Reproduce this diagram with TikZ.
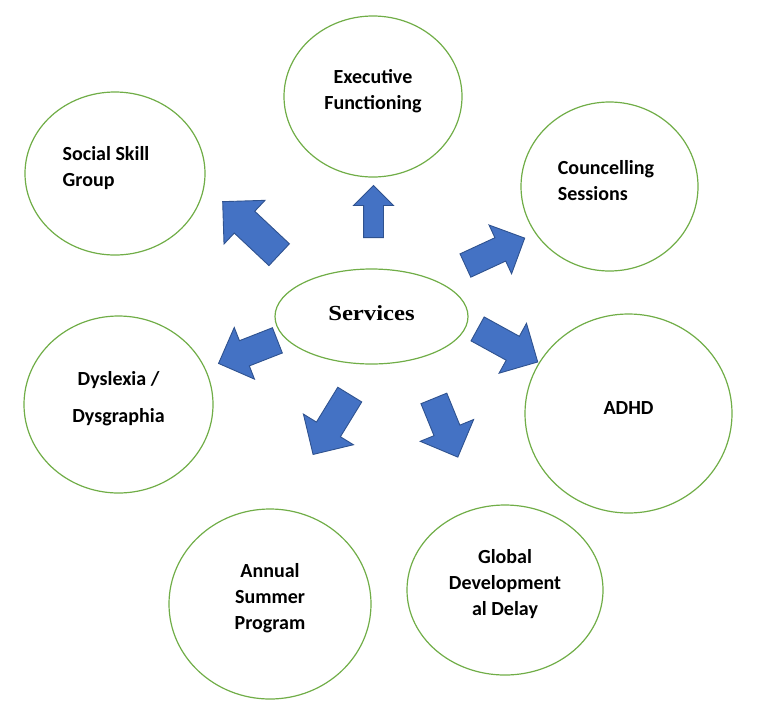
\documentclass[tikz,border=0pt]{standalone}
\usepackage{fontspec}
\newfontfamily\calibri{Carlito}
\newfontfamily\cambria{Liberation Serif}[FakeStretch=1.15]
\usetikzlibrary{shapes.geometric, shapes.arrows}
\definecolor{ringgreen}{HTML}{70AD47}
\definecolor{arrowblue}{HTML}{4472C4}
\definecolor{arrowedge}{HTML}{2F528F}

\begin{document}
\begin{tikzpicture}[x=1pt, y=-1pt,
ring/.style={ellipse, draw=ringgreen, line width=1.2pt, inner sep=0pt},
svc/.style={font=\calibri\bfseries\fontsize{20}{26}\selectfont, align=center},
blk/.style={single arrow, fill=arrowblue, draw=arrowedge, line width=0.9pt, inner xsep=0pt, minimum width=0pt, anchor=tail}]
\useasboundingbox (0,0) rectangle (757,718);
\def\up{5.5pt}

% rings
\node[ring, minimum width=193pt, minimum height=95pt] (serv) at (371.5,316.5) {};
\node[ring, minimum width=180pt, minimum height=163pt] (social) at (115,173.5) {};
\node[ring, minimum width=178pt, minimum height=161pt] (exec) at (373,96.5) {};
\node[ring, minimum width=177pt, minimum height=169pt] (counsel) at (609.5,186.5) {};
\node[ring, minimum width=189pt, minimum height=177pt] (dys) at (118.5,404.5) {};
\node[ring, minimum width=207pt, minimum height=199pt] (adhd) at (628.5,413.5) {};
\node[ring, minimum width=202pt, minimum height=190pt] (annual) at (270,604) {};
\node[ring, minimum width=196pt, minimum height=170pt] (global) at (505,590) {};

% labels
\node[font=\cambria\bfseries\fontsize{21.5}{26}\selectfont] (serv-t) at ([yshift=3pt]serv) {Services};
\node[svc, align=left] (social-t) at (106,168) {Social Skill\\Group};
\node[svc] (exec-t) at ([yshift=\up]exec) {Executive\\Functioning};
\node[svc, align=left] (counsel-t) at (606,181) {Councelling\\Sessions};
\node[svc] (dys-t) at ([yshift=\up]dys) {Dyslexia /\\[11pt]Dysgraphia};
\node[svc] (adhd-t) at ([yshift=\up]adhd) {ADHD};
\node[svc] (annual-t) at ([yshift=\up]annual) {Annual\\Summer\\Program};
\node[svc] (global-t) at ([yshift=\up]global) {Global\\Development\\al Delay};

% block arrows
\node[blk, rotate=90, minimum height=52pt, inner ysep=9.5pt, single arrow head extend=10pt] (ar-exec) at (373.5,238) {};
\node[blk, rotate=136.8, minimum height=77.5pt, inner ysep=14.5pt, single arrow head extend=15pt] (ar-social) at (279.5,255) {};
\node[blk, rotate=24.8, minimum height=65.3pt, inner ysep=12.4pt, single arrow head extend=14pt] (ar-counsel) at (465,265.7) {};
\node[blk, rotate=201.4, minimum height=63.2pt, inner ysep=13.1pt, single arrow head extend=14.2pt] (ar-dys) at (277.8,340.2) {};
\node[blk, rotate=-28.8, minimum height=68.6pt, inner ysep=13.2pt, single arrow head extend=14.8pt] (ar-adhd) at (477.2,328.7) {};
\node[blk, rotate=238.5, minimum height=70.2pt, inner ysep=13.6pt, single arrow head extend=15.3pt] (ar-annual) at (350,394.2) {};
\node[blk, rotate=-67.8, minimum height=63.4pt, inner ysep=13.5pt, single arrow head extend=14.9pt] (ar-global) at (433.7,398) {};
\end{tikzpicture}
\end{document}
